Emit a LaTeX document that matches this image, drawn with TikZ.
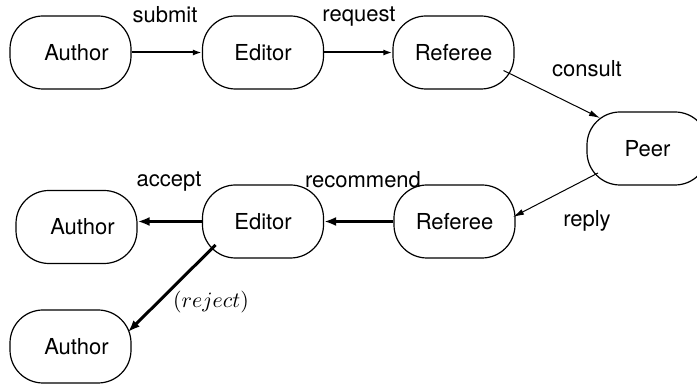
\documentclass[tikz,border=0pt]{standalone}
\usepackage{fontspec}
\setmainfont{TeX Gyre Heros}
\usetikzlibrary{arrows.meta,calc}
\begin{document}
\begin{tikzpicture}[x=0.5pt,y=-0.5pt,
  every node/.style={font=\fontsize{11}{13}\selectfont},
  stadium/.style={draw, line width=0.6pt, rounded corners=16.5pt,
    minimum width=60.5pt, minimum height=36.5pt, inner sep=0pt},
  lbl/.style={anchor=base, inner sep=0pt},
  midarrow/.style={line width=1pt, -{Latex[length=4.5pt,width=3pt]}},
  thinarrow/.style={line width=0.5pt, -{Latex[length=5.5pt,width=3pt]}},
  thickarrow/.style={line width=1.5pt, -{Latex[length=6pt,width=4.5pt]}}]
\clip (0,0) rectangle (697,384);
\useasboundingbox (0,0) rectangle (697,384);
% nodes
\node[stadium] (a1) at (70.5,52.5) {\hspace{6pt}Author};
\node[stadium] (e1) at (263,52.5) {Editor};
\node[stadium] (r1) at (453.5,52.5) {Referee};
\node[stadium] (p)  at (647.5,148.5) {Peer\hspace{6pt}};
\node[stadium] (a2) at (76.5,227) {\hspace{6pt}Author};
\node[stadium] (e2) at (263,221.5) {Editor};
\node[stadium] (r2) at (454.5,221.5) {Referee};
\node[stadium] (a3) at (70.5,346.5) {\hspace{6pt}Author};
% connectors
\draw[midarrow] (a1.east) -- (e1.west);
\draw[midarrow] (e1.east) -- (r1.west);
\draw[thinarrow] ($(r1.center)+(50,18)$) -- ($(p.center)+(-47.5,-30.5)$);
\draw[thinarrow] ($(p.center)+(-49.5,24.5)$) -- ($(r2.center)+(58.5,-4.5)$);
\draw[thickarrow] (r2.west) -- (e2.east);
\draw[thickarrow] (e2.west) -- (e2.west -| a2.east);
\draw[thickarrow] ($(e2.center)+(-47.5,23.5)$) -- ($(a3.center)+(57.5,-14.5)$);
% labels
\node[lbl] (lsubmit) at (165,23) {submit};
\node[lbl] (lrequest) at (359,22) {request};
\node[lbl] (lconsult) at (587,77) {consult};
\node[lbl] (lreply) at (587,227) {reply};
\node[lbl] (lrecommend) at (363,188) {recommend};
\node[lbl] (laccept) at (169,187) {accept};
\node[lbl] (lreject) at (211,308) {$(reject)$};
\end{tikzpicture}
\end{document}
